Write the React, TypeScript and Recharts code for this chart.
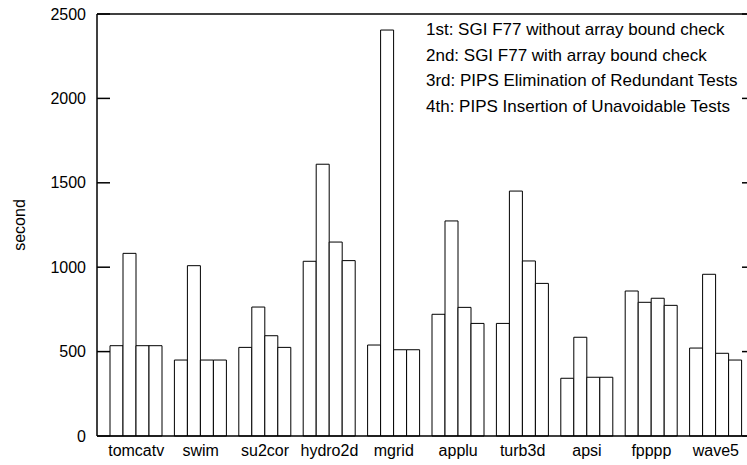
import React from "react";
import {
  Bar,
  BarChart,
  Legend,
  ReferenceLine,
  XAxis,
  YAxis,
} from "recharts";

const benchmarks = ["tomcatv", "swim", "su2cor", "hydro2d", "mgrid", "applu", "turb3d", "apsi", "fpppp", "wave5"];
const sgiNoCheck = [535, 450, 525, 1035, 539, 721, 667, 342, 859, 521];
const sgiCheck = [1082, 1009, 764, 1610, 2405, 1274, 1451, 585, 792, 958];
const pipsRedundant = [535, 450, 594, 1149, 511, 762, 1037, 348, 816, 490];
const pipsUnavoidable = [535, 450, 525, 1039, 511, 667, 904, 348, 774, 450];
const seriesNames = [
  "1st: SGI F77 without array bound check",
  "2nd: SGI F77 with array bound check",
  "3rd: PIPS Elimination of Redundant Tests",
  "4th: PIPS Insertion of Unavoidable Tests",
];
const yTicks = [0, 500, 1000, 1500, 2000, 2500];

const FONT = '"Liberation Sans", Arial, Helvetica, sans-serif';

const data = benchmarks.map((name, i) => ({
  name,
  s1: sgiNoCheck[i],
  s2: sgiCheck[i],
  s3: pipsRedundant[i],
  s4: pipsUnavoidable[i],
}));

// left axis: label outside, tick mark pointing into the plot
const LeftTick = ({ x, y, payload }: any) => (
  <g>
    <line x1={x + 11} x2={x + 24} y1={y} y2={y} stroke="#000" strokeWidth={1.5} />
    <text x={x} y={y} dy="0.35em" textAnchor="end" fontSize={16} fill="#000" fontFamily={FONT}>
      {payload.value}
    </text>
  </g>
);

const NoLabel = () => <g />;

const LegendText = ({ payload }: any) => (
  <div style={{ fontFamily: FONT, fontSize: 17, color: "#000", lineHeight: "25.5px", whiteSpace: "nowrap" }}>
    {(payload || []).map((p: any) => (
      <div key={p.value}>{p.value}</div>
    ))}
  </div>
);

export default function App() {
  const barProps = { fill: "#fff", stroke: "#000", strokeWidth: 1, isAnimationActive: false };
  return (
    <div
      style={{
        position: "absolute",
        left: 0,
        top: 0,
        width: 747,
        height: 465,
        overflow: "hidden",
        background: "#fff",
        fontFamily: FONT,
      }}
    >
      <BarChart
        width={760}
        height={465}
        data={data}
        margin={{ top: 14, right: 5, bottom: 0, left: 0 }}
        barSize={13}
        barGap={0}
      >
        <XAxis
          dataKey="name"
          height={29}
          padding={{ left: 7, right: 7 }}
          axisLine={{ stroke: "#000", strokeWidth: 1.5 }}
          tickLine={false}
          tickSize={0}
          tickMargin={9}
          tick={{ fontSize: 16, fill: "#000", fontFamily: FONT }}
          interval={0}
        />
        <YAxis
          width={97}
          domain={[0, 2500]}
          ticks={yTicks}
          axisLine={{ stroke: "#000", strokeWidth: 1.5 }}
          tickLine={false}
          tickSize={0}
          tickMargin={11}
          tick={<LeftTick />}
          label={{
            value: "second",
            angle: -90,
            position: "insideLeft",
            offset: 19,
            style: { textAnchor: "middle", fontSize: 16, fill: "#000", fontFamily: FONT },
          }}
        />
        <YAxis
          yAxisId="r"
          orientation="right"
          width={13}
          mirror
          domain={[0, 2500]}
          ticks={yTicks}
          axisLine={{ stroke: "#000", strokeWidth: 1.5 }}
          tickLine={{ stroke: "#000", strokeWidth: 1.5 }}
          tickSize={13}
          tick={<NoLabel />}
        />
        <ReferenceLine y={2500} stroke="#000" strokeWidth={1.5} />
        <Legend
          layout="vertical"
          align="center"
          verticalAlign="middle"
          content={<LegendText />}
          wrapperStyle={{ position: "absolute", left: 426, top: 17, width: "auto" }}
        />
        <Bar dataKey="s1" name={seriesNames[0]} {...barProps} />
        <Bar dataKey="s2" name={seriesNames[1]} {...barProps} />
        <Bar dataKey="s3" name={seriesNames[2]} {...barProps} />
        <Bar dataKey="s4" name={seriesNames[3]} yAxisId="r" {...barProps} />
      </BarChart>
    </div>
  );
}
